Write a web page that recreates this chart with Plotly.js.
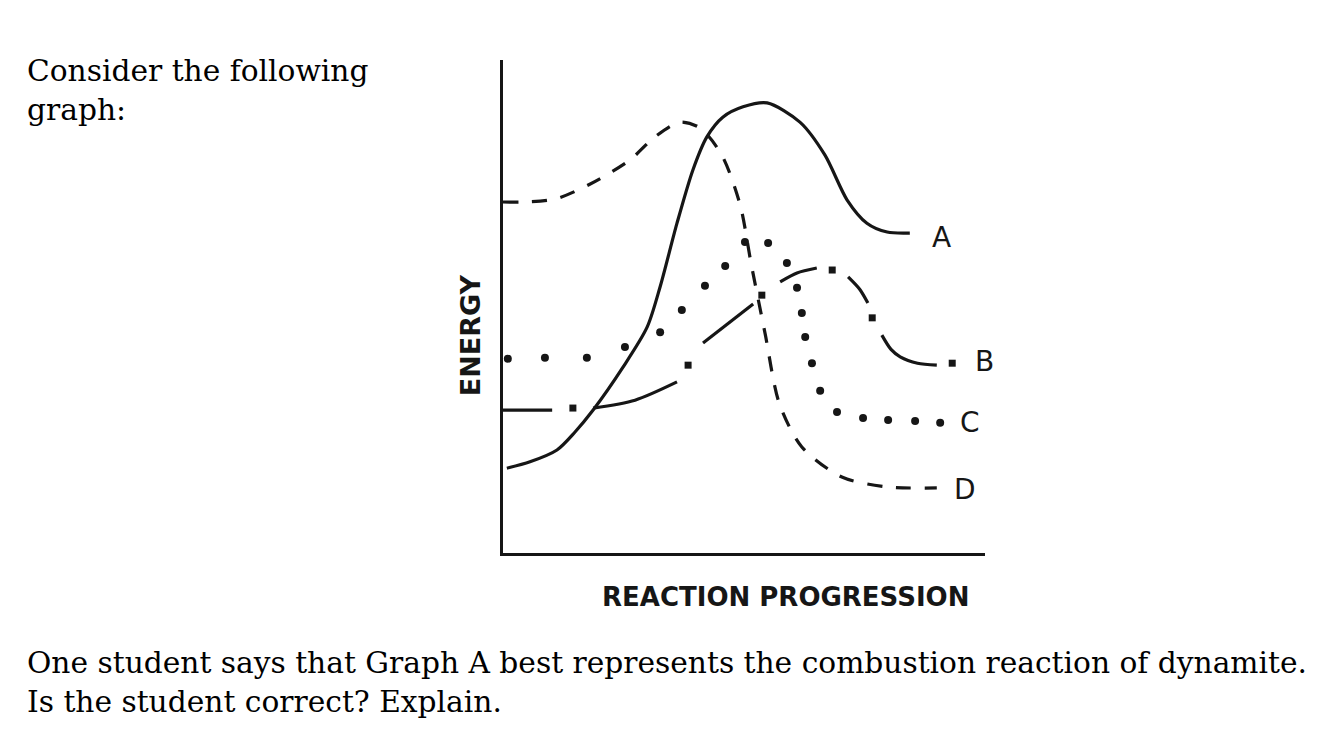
<!DOCTYPE html>
<html>
<head>
<meta charset="utf-8">
<script src="https://cdn.plot.ly/plotly-3.0.1.min.js"></script>
<style>
  body { margin: 0; background: #fff; }
  #myPlot { width: 1333px; height: 740px; }
</style>
</head>
<body>
<div id="myPlot"></div>
<script>
// Energy (arbitrary units 0-100) vs reaction progression (0-100)

// Graph A - solid line
var aX = [0.8, 5.6, 11.2, 14.9, 18.7, 24.9, 29.9, 32.6, 36.1, 39.4, 42.3, 45.6, 49.8, 54.8, 61.6, 66.8, 71.4, 75.5, 79.7, 84.4]
var aY = [17.2, 18.5, 20.9, 24.5, 29.0, 37.7, 45.8, 54.0, 66.9, 77.7, 84.4, 88.4, 90.5, 91.3, 87.4, 80.7, 71.6, 66.9, 65.1, 64.9]

// Graph B - dash and dot (null breaks the line between dashes)
var bLineX = [0, 10.2, null, 18.7, 27.4, 36.1, null, 41.5, 51.9, null, 57.5, 61, 65.1, null, 71.6, 74, 75.7, null, 78.6, 80.5, 82.4, 86, 90.0]
var bLineY = [29.0, 29.0, null, 29.4, 31.0, 34.7, null, 42.6, 50.5, null, 55.0, 56.8, 57.8, null, 56.0, 53.5, 50.7, null, 44.2, 41.3, 39.8, 38.5, 38.1]
var bDotX = [14.5, 38.4, 53.7, 68.3, 76.6, 93.2]
var bDotY = [29.4, 38.1, 52.3, 57.4, 47.7, 38.5]

// Graph C - dots
var cX = [1.0, 8.7, 17.4, 25.3, 32.6, 37.1, 41.9, 46.1, 50.2, 55.0, 58.9, 61.0, 62.0, 62.7, 64.1, 65.8, 69.3, 74.7, 79.9, 85.5, 90.7]
var cY = [39.4, 39.6, 39.6, 41.8, 44.8, 49.3, 54.2, 58.2, 63.1, 62.9, 58.8, 53.8, 48.7, 43.8, 38.5, 32.9, 28.6, 27.4, 27.0, 26.8, 26.4]

// Graph D - dashed
var dX = [0, 4.1, 10.8, 18.0, 26.3, 31.5, 36.7, 40.9, 45.4, 49.2, 51.5, 54.4, 57.3, 62.0, 70.3, 79.7, 90.0]
var dY = [71.2, 71.2, 71.8, 74.8, 79.7, 84.4, 87.4, 86.2, 80.7, 70.6, 58.6, 44.4, 30.4, 21.5, 15.4, 13.4, 13.2]

// Curve labels
var labelNames = ["A", "B", "C", "D"]
var labelX = [88.6, 97.6, 94.5, 93.2]
var labelY = [63.9, 38.8, 26.4, 12.8]

var ink = "#161616"
var serif = "DejaVu Serif, serif"
var hand = "DejaVu Sans, sans-serif"

var data = [
  {x: aX, y: aY, mode: "lines", line: {color: ink, width: 3.2, shape: "spline", smoothing: 0.8}, name: "A"},
  {x: bLineX, y: bLineY, mode: "lines", connectgaps: false,
   line: {color: ink, width: 3.2, shape: "spline", smoothing: 0.8}, name: "B"},
  {x: bDotX, y: bDotY, mode: "markers", marker: {color: ink, size: 7, symbol: "square"}, name: "B dots"},
  {x: cX, y: cY, mode: "markers", marker: {color: ink, size: 8}, name: "C"},
  {x: dX, y: dY, mode: "lines", line: {color: ink, width: 3.2, shape: "spline", smoothing: 0.8, dash: "15px,14px"}, name: "D"}
]

var annotations = []
for (var i = 0; i < labelNames.length; i++) {
  annotations.push({x: labelX[i], y: labelY[i], text: labelNames[i], showarrow: false,
    xanchor: "left", yanchor: "middle", font: {family: hand, size: 28, color: ink}})
}

// axis titles (hand lettered in the original)
annotations.push({xref: "paper", yref: "paper", x: 0.587, y: -0.089, text: "<b>REACTION PROGRESSION</b>",
  showarrow: false, xanchor: "center", yanchor: "middle",
  font: {family: hand, size: 26, color: ink}})
annotations.push({xref: "paper", yref: "paper", x: -0.068, y: 0.442, text: "<b>ENERGY</b>", textangle: -90,
  showarrow: false, xanchor: "center", yanchor: "middle",
  font: {family: hand, size: 27, color: ink}})

// question text around the graph
annotations.push({xref: "paper", yref: "paper", x: -0.992, y: 0.94, text: "Consider the following<br>graph:",
  showarrow: false, xanchor: "left", yanchor: "middle", align: "left",
  font: {family: serif, size: 29.7, color: "#000"}})
annotations.push({xref: "paper", yref: "paper", x: -0.992, y: -0.262,
  text: "One student says that Graph A best represents the combustion reaction of dynamite.<br>Is the student correct? Explain.",
  showarrow: false, xanchor: "left", yanchor: "middle", align: "left",
  font: {family: serif, size: 29.7, color: "#000"}})

var layout = {
  width: 1333,
  height: 740,
  margin: {l: 503, r: 348, t: 60, b: 187},
  paper_bgcolor: "#fff",
  plot_bgcolor: "#fff",
  showlegend: false,
  xaxis: {range: [0, 100], showgrid: false, zeroline: false, showticklabels: false, ticks: "",
    showline: true, linecolor: ink, linewidth: 3},
  yaxis: {range: [0, 100], showgrid: false, zeroline: false, showticklabels: false, ticks: "",
    showline: true, linecolor: ink, linewidth: 3},
  annotations: annotations
}

Plotly.newPlot("myPlot", data, layout, {displayModeBar: false, staticPlot: true})
</script>
</body>
</html>
